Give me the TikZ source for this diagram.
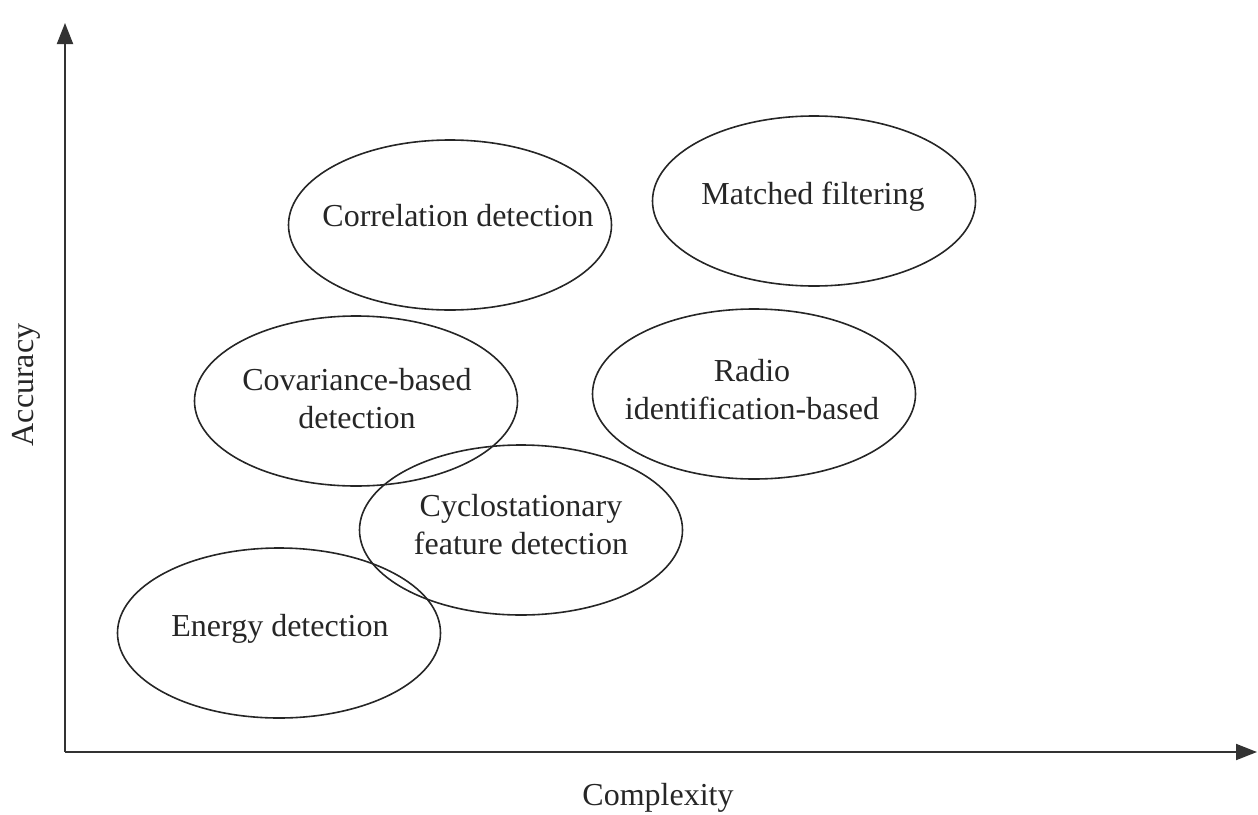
\documentclass[tikz,border=0pt]{standalone}
\usepackage{fontspec}
\setmainfont{Liberation Serif}
\usetikzlibrary{shapes.geometric,arrows.meta}
\begin{document}
\begin{tikzpicture}[x=1pt,y=-1pt,
  method/.style={draw=black!85,line width=1.6pt,ellipse,minimum width=323pt,minimum height=170pt,inner sep=0pt},
  lbl/.style={font=\fontsize{32}{38}\selectfont,text=black!85,align=center,inner sep=0pt},
  axis/.style={draw=black!80,line width=1.9pt,-{Triangle[length=21pt,width=16pt]}}]
\useasboundingbox (0,0) rectangle (1258,814);

% axes
\coordinate (O) at (65,752);
\coordinate (ytop) at (65,23);
\coordinate (xend) at (1257,752);
\draw[axis] (O) -- (ytop);
\draw[axis] (O) -- (xend);
\node[lbl,rotate=90] (acc) at (26,385) {Accuracy};
\node[lbl] (cmp) at (658,798) {Complexity};

% detection methods
\node[method] (corr) at (450,225) {};
\node[method] (match) at (814,201) {};
\node[method] (cov) at (356,401) {};
\node[method] (radio) at (754,394) {};
\node[method] (cyclo) at (521,530) {};
\node[method] (energy) at (279,633) {};

\node[lbl] (corrT) at (458,216) {Correlation detection};
\node[lbl] (matchT) at (813,197) {Matched filtering};
\node[lbl] (covT) at (357,399) {Covariance-based\\detection};
\node[lbl] (radioT) at (752,390) {Radio\\identification-based};
\node[lbl] (cycloT) at (521,525) {Cyclostationary\\feature detection};
\node[lbl] (energyT) at (280,629) {Energy detection};
\end{tikzpicture}
\end{document}
